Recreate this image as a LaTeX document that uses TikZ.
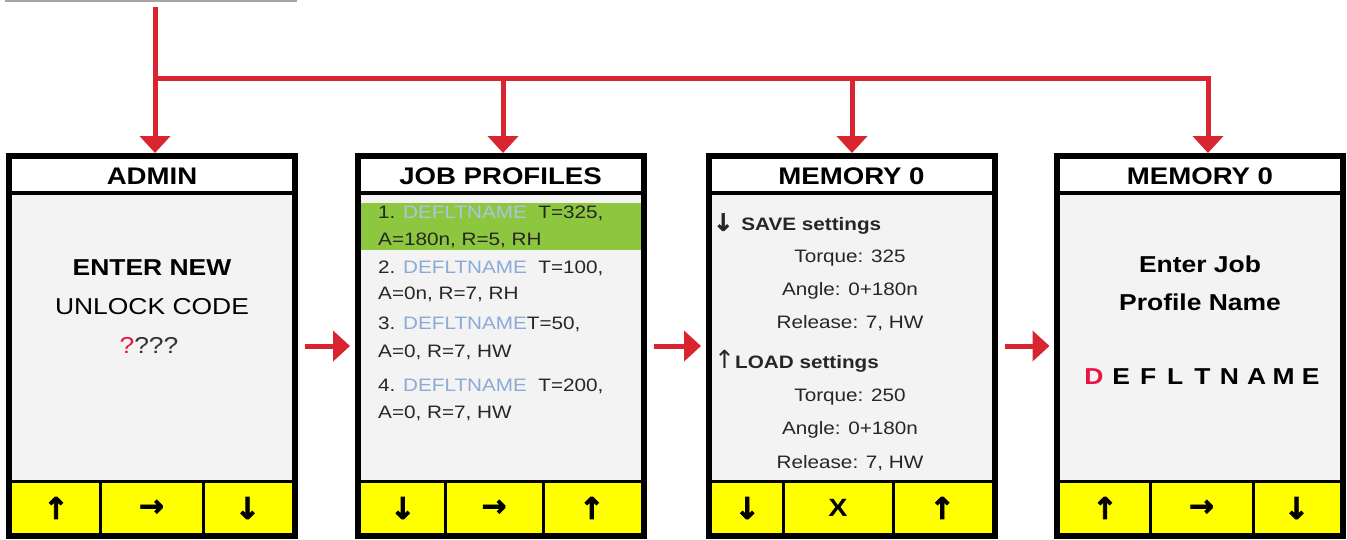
\documentclass[tikz,border=0pt]{standalone}
\usepackage{fontspec}
\setmainfont{Liberation Sans}[FakeStretch=1.15]
\newfontfamily\arrowfont{DejaVu Sans}
\newfontfamily\keyfont{DejaVu Sans}[FakeBold=2.5]
\usetikzlibrary{arrows.meta}

\definecolor{flowred}{RGB}{217,37,47}
\definecolor{lcdbody}{RGB}{243,243,243}
\definecolor{keyyellow}{RGB}{255,255,0}
\definecolor{selgreen}{RGB}{141,198,63}
\definecolor{nameblue}{RGB}{140,170,215}
\definecolor{cursorred}{RGB}{232,20,70}

\newcommand\kup{{\keyfont\fontsize{30}{32}\selectfont ↑}}
\newcommand\kdn{{\keyfont\fontsize{30}{32}\selectfont ↓}}
\newcommand\krt{{\keyfont\fontsize{30}{32}\selectfont →}}

\begin{document}
\begin{tikzpicture}[
  x=1pt, y=-1pt,
  screen/.style={draw=black, line width=6pt, fill=lcdbody,
    minimum width=286pt, minimum height=380pt, inner sep=0pt},
  flow/.style={draw=flowred, line width=5pt,
    -{Triangle[width=30pt,length=17pt]}},
  title/.style={font=\fontsize{24}{28}\selectfont\bfseries},
  bigtext/.style={font=\fontsize{23}{27}\selectfont},
  bigbold/.style={font=\fontsize{23}{27}\selectfont\bfseries},
  listtext/.style={font=\fontsize{18}{22}\selectfont, text=black!85,
    anchor=west, inner sep=0pt},
  memtext/.style={font=\fontsize{18}{22}\selectfont, text=black!85},
  keylabel/.style={font=\fontsize{25}{28}\selectfont\bfseries}
]
  \useasboundingbox (0,0) rectangle (1347,539);

  % Остаток рамки сверху
  \draw[gray!70, line width=1.5pt] (5,0.75) -- (297,0.75);

  % Экраны: рамка, заголовок, жёлтые кнопки
  \foreach \n/\cx/\da/\db/\ttl/\ka/\kb/\kc in {
      s1/152/100/203/ADMIN/\kup/\krt/\kdn,
      s2/500.5/445/543/JOB PROFILES/\kdn/\krt/\kup,
      s3/851.5/783/893/MEMORY 0/\kdn/X/\kup,
      s4/1200/1150/1253/MEMORY 0/\kup/\krt/\kdn}
  {
    \node[screen] (\n) at (\cx,346) {};
    \fill[white] (\cx-140,159) rectangle (\cx+140,191);
    \draw[line width=4pt] (\cx-143,193) -- (\cx+143,193);
    \fill[keyyellow] (\cx-140,481) rectangle (\cx+140,533);
    \draw[line width=3pt] (\cx-143,481) -- (\cx+143,481);
    \draw[line width=3pt] (\da,481) -- (\da,533);
    \draw[line width=3pt] (\db,481) -- (\db,533);
    \node[title] (\n-title) at (\cx,176) {\ttl};
    \node[keylabel] (\n-k1) at ({(\cx-140+\da)/2},508) {\ka};
    \node[keylabel] (\n-k2) at ({(\da+\db)/2},508) {\kb};
    \node[keylabel] (\n-k3) at ({(\db+\cx+140)/2},508) {\kc};
  }

  % Экран 1
  \node[bigbold] (s1-a) at (152,268) {ENTER NEW};
  \node[bigtext] (s1-b) at (152,307) {UNLOCK CODE};
  \node[bigtext, text=black!80] (s1-c) at (149,345)
    {\textcolor{cursorred}{?}???};

  % Экран 2
  \fill[selgreen] (360.5,203) rectangle (640.5,250);
  \node[listtext] (s2-1a) at (378,213)
    {1. \textcolor{nameblue!70}{DEFLTNAME}~~T=325,};
  \node[listtext] (s2-1b) at (378,240) {A=180n, R=5, RH};
  \node[listtext] (s2-2a) at (378,268)
    {2. \textcolor{nameblue}{DEFLTNAME}~~T=100,};
  \node[listtext] (s2-2b) at (378,294) {A=0n, R=7, RH};
  \node[listtext] (s2-3a) at (378,324)
    {3. \textcolor{nameblue}{DEFLTNAME}T=50,};
  \node[listtext] (s2-3b) at (378,352) {A=0, R=7, HW};
  \node[listtext] (s2-4a) at (378,386)
    {4. \textcolor{nameblue}{DEFLTNAME}~~T=200,};
  \node[listtext] (s2-4b) at (378,413) {A=0, R=7, HW};

  % Экран 3
  \node[memtext, anchor=west, inner sep=0pt,
    font=\fontsize{18}{22}\selectfont\bfseries] (s3-save) at (713,224)
    {{\keyfont\fontsize{24}{26}\selectfont ↓}\hspace{8pt}SAVE settings};
  \node[memtext] (s3-t1) at (850,258) {Torque: 325};
  \node[memtext] (s3-a1) at (850,291) {Angle: 0+180n};
  \node[memtext] (s3-r1) at (850,323) {Release: 7, HW};
  \node[memtext, anchor=west, inner sep=0pt,
    font=\fontsize{18}{22}\selectfont\bfseries] (s3-load) at (714,361)
    {{\mdseries\arrowfont\fontsize{25}{27}\selectfont ↑}LOAD settings};
  \node[memtext] (s3-t2) at (850,397) {Torque: 250};
  \node[memtext] (s3-a2) at (850,430) {Angle: 0+180n};
  \node[memtext] (s3-r2) at (850,463) {Release: 7, HW};

  % Экран 4
  \node[bigbold] (s4-a) at (1200,264) {Enter Job};
  \node[bigbold] (s4-b) at (1200,302) {Profile Name};
  \node[bigbold, text=cursorred] (s4-c1) at (1094,377) {D};
  \foreach \c [count=\i from 2] in {E,F,L,T,N,A,M,E}
    \node[bigbold] (s4-c\i) at ({1094+(\i-1)*27.1},377) {\c};

  % Красные стрелки сверху
  \coordinate (src) at (155,7);
  \coordinate (bus) at (155,78);
  \draw[flow] (src) -- ([xshift=3pt]s1.north);
  \draw[flow] (bus) -| ([xshift=2.5pt]s2.north);
  \draw[flow] (bus) -| ([xshift=0.5pt]s3.north);
  \draw[flow] (bus) -| ([xshift=8pt]s4.north);

  % Переходы между экранами
  \draw[flow, shorten <=7pt, shorten >=4.5pt] (s1.east) -- (s2.west);
  \draw[flow, shorten <=7pt, shorten >=4.5pt] (s2.east) -- (s3.west);
  \draw[flow, shorten <=7pt, shorten >=4.5pt] (s3.east) -- (s4.west);
\end{tikzpicture}
\end{document}
